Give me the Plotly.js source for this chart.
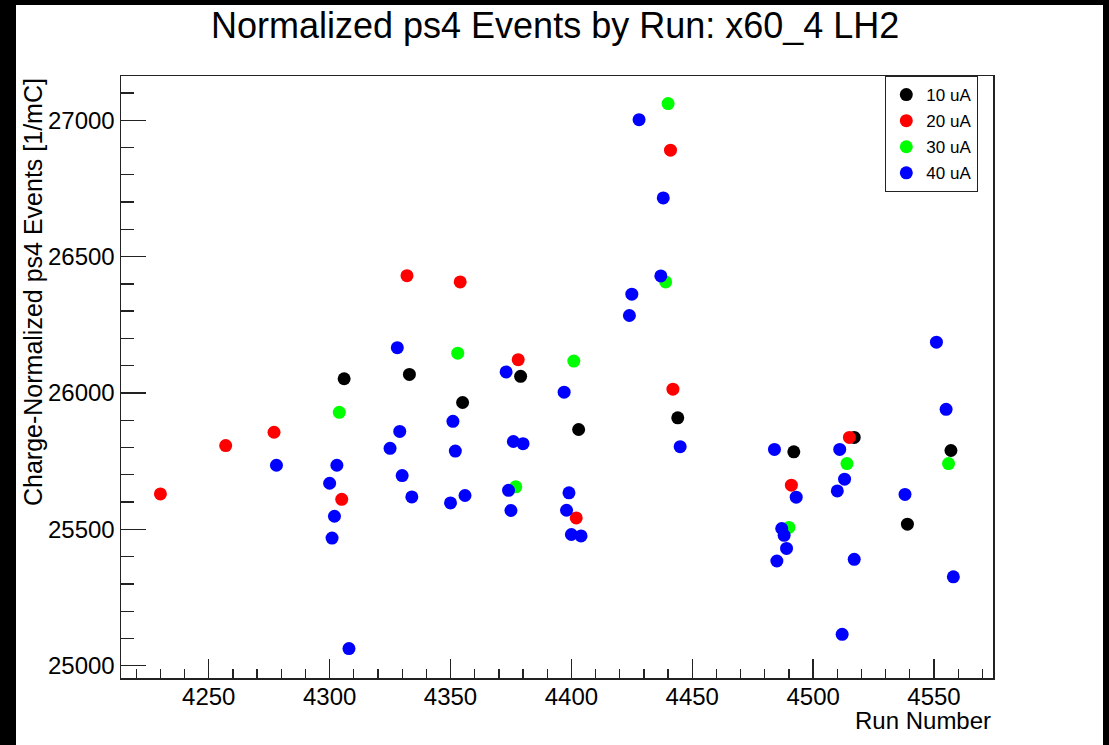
<!DOCTYPE html>
<html>
<head>
<meta charset="utf-8">
<script src="https://cdn.plot.ly/plotly-3.0.1.min.js"></script>
<style>
  html, body { margin: 0; padding: 0; background: #000; width: 1109px; height: 745px; overflow: hidden; }
  #chart { position: absolute; left: 16px; top: 5px; width: 1087px; height: 740px; background: #fff; }
</style>
</head>
<body>
<div id="chart"></div>
<script>
// ---- data ----
const seriesNames = ["10 uA", "20 uA", "30 uA", "40 uA"];

const run10uA = [4306, 4333, 4355, 4379, 4403, 4444, 4492, 4517, 4539, 4557];
const evt10uA = [26052, 26068, 25965, 26061, 25866, 25909, 25784, 25837, 25519, 25789];

const run20uA = [4230, 4257, 4277, 4305, 4332, 4354, 4378, 4402, 4441, 4442, 4491, 4515];
const evt20uA = [25630, 25807, 25856, 25610, 26430, 26407, 26122, 25542, 26890, 26014, 25662, 25837];

const run30uA = [4304, 4353, 4377, 4401, 4439, 4440, 4490, 4514, 4556];
const evt30uA = [25929, 26146, 25656, 26117, 26407, 27061, 25507, 25741, 25741];

const run40uA = [4278, 4303, 4300, 4302, 4301, 4308, 4328, 4329, 4325, 4330, 4334,
                 4351, 4352, 4350, 4356, 4373, 4376, 4380, 4374, 4375,
                 4397, 4399, 4398, 4400, 4404, 4425, 4424, 4428, 4438, 4437, 4445,
                 4484, 4511, 4513, 4510, 4493, 4538, 4487, 4488, 4489, 4485, 4517, 4512,
                 4551, 4555, 4558];
const evt40uA = [25735, 25735, 25669, 25548, 25468, 25063, 26166, 25859, 25797, 25697, 25619,
                 25896, 25787, 25597, 25624, 26077, 25822, 25814, 25643, 25569,
                 26003, 25634, 25570, 25481, 25476, 26362, 26284, 27002, 26715, 26429, 25803,
                 25793, 25793, 25684, 25641, 25618, 25628, 25503, 25478, 25430, 25384, 25390, 25115,
                 26186, 25940, 25326];

const seriesColors = ["#000000", "#ff0000", "#00ff00", "#0000ff"];

const titleText = "Normalized ps4 Events by Run: x60_4 LH2";
const xTitleText = "Run Number";
const yTitleText = "Charge-Normalized ps4 Events [1/mC]";

// ---- chart ----
const FONT = "Liberation Sans, Arial, Helvetica, sans-serif";
const xs = [run10uA, run20uA, run30uA, run40uA];
const ys = [evt10uA, evt20uA, evt30uA, evt40uA];

const traces = seriesNames.map((name, i) => ({
  type: "scatter",
  mode: "markers",
  name: name,
  legendgroup: "g" + i,
  x: xs[i],
  y: ys[i],
  marker: { color: seriesColors[i], size: 13, line: { width: 0 } },
  hoverinfo: "x+y+name"
}));

const axisCommon = {
  showgrid: false,
  zeroline: false,
  showline: true,
  linecolor: "#222",
  linewidth: 1.5,
  mirror: true,
  ticks: "inside",
  tickcolor: "#222",
  tickwidth: 1.3,
  tickformat: "d",
  tickfont: { family: FONT, size: 24, color: "#000" }
};

const layout = {
  width: 1087,
  height: 740,
  margin: { l: 105, r: 110, t: 71, b: 67 },
  paper_bgcolor: "#ffffff",
  plot_bgcolor: "#ffffff",
  showlegend: true,
  title: {
    text: titleText,
    font: { family: FONT, size: 36, color: "#000" },
    xref: "container", x: 0.496, xanchor: "center",
    yref: "container", y: 0.972, yanchor: "middle"
  },
  xaxis: Object.assign({}, axisCommon, {
    range: [4213.7, 4574.4],
    tick0: 4250, dtick: 50,
    ticklen: 19,
    ticklabelstandoff: -3,
    minor: { ticks: "inside", dtick: 10, tick0: 4250, ticklen: 9, tickwidth: 1.3, tickcolor: "#222", showgrid: false }
  }),
  yaxis: Object.assign({}, axisCommon, {
    range: [24955, 27162],
    tick0: 25000, dtick: 500,
    ticklen: 25,
    minor: { ticks: "inside", dtick: 100, tick0: 25000, ticklen: 13, tickwidth: 1.3, tickcolor: "#222", showgrid: false }
  }),
  legend: {
    x: 0.8765, y: 1, xanchor: "left", yanchor: "top",
    bgcolor: "#ffffff", bordercolor: "#222", borderwidth: 1,
    font: { family: FONT, size: 17, color: "#000" },
    traceorder: "grouped", tracegroupgap: 1,
    entrywidth: 110, entrywidthmode: "pixels"
  },
  annotations: [
    {
      text: yTitleText, textangle: -90,
      xref: "paper", yref: "paper", x: -0.1009, y: 1,
      xanchor: "center", yanchor: "top", showarrow: false,
      font: { family: FONT, size: 25, color: "#000" }
    },
    {
      text: xTitleText,
      xref: "paper", yref: "paper", x: 1, y: -0.0714,
      xanchor: "right", yanchor: "middle", showarrow: false,
      font: { family: FONT, size: 24, color: "#000" }
    }
  ]
};

Plotly.newPlot("chart", traces, layout, { displayModeBar: false, staticPlot: true });
</script>
</body>
</html>
